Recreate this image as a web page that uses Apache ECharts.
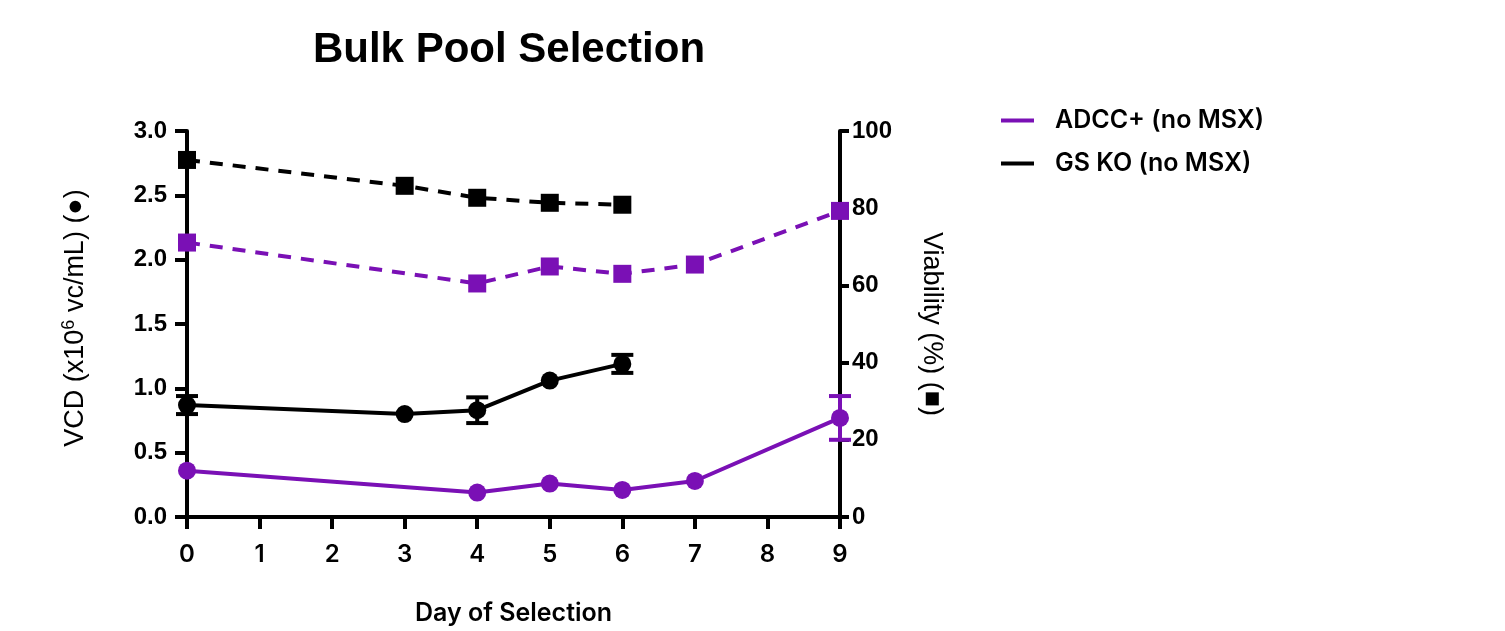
<!DOCTYPE html>
<html><head><meta charset="utf-8">
<script src="https://cdn.jsdelivr.net/npm/echarts@6/dist/echarts.min.js"></script>
<style>html,body{margin:0;padding:0;background:#fff}#c{width:1505px;height:631px}</style>
</head><body><div id="c"></div>
<script>
const days = [0,1,2,3,4,5,6,7,8,9];
const gsDays = [0,3,4,5,6];
const gsVCD = [0.87,0.80,0.83,1.06,1.19];
const gsVCDerr = [0.07,0,0.10,0,0.07];
const gsViab = [92.5,85.8,82.7,81.4,80.9];
const adDays = [0,4,5,6,7,9];
const adVCD = [0.36,0.19,0.26,0.21,0.28,0.77];
const adVCDerr = [0,0,0,0,0,0.17];
const adViab = [71.1,60.5,64.9,63.0,65.4,79.3];
const purple = '#7a10b5', black = '#000';

function pairs(xs, ys){ return xs.map((x,i)=>[x,ys[i]]); }
function errData(xs, ys, es){ return xs.map((x,i)=>[x,ys[i]-es[i],ys[i]+es[i]]).filter((d,i)=>es[i]>0); }
function errSeries(data, color){
  return {type:'custom', yAxisIndex:0, z:5, data:data, silent:true,
    renderItem:function(params, api){
      const x = api.value(0);
      const lo = api.coord([x, api.value(1)]);
      const hi = api.coord([x, api.value(2)]);
      const w = 11;
      const st = {stroke:color, lineWidth:4};
      return {type:'group', children:[
        {type:'line', shape:{x1:lo[0],y1:lo[1],x2:hi[0],y2:hi[1]}, style:st},
        {type:'line', shape:{x1:lo[0]-w,y1:lo[1],x2:lo[0]+w,y2:lo[1]}, style:st},
        {type:'line', shape:{x1:hi[0]-w,y1:hi[1],x2:hi[0]+w,y2:hi[1]}, style:st}
      ]};
    }};
}
const axLabel = {fontFamily:'Liberation Sans, Arial', fontWeight:'bold', fontSize:24, color:'#000'};
const chart = echarts.init(document.getElementById('c'));
chart.setOption({
  animation:false,
  title:{text:'Bulk Pool Selection', left:504, top:24, textAlign:'center',
    textStyle:{fontFamily:'Liberation Sans, Arial', fontWeight:'bold', fontSize:42, color:'#000'}},
  legend:{data:['ADCC+ (no MSX)','GS KO (no MSX)'], orient:'vertical', left:996, top:103,
    icon:'rect', itemWidth:33, itemHeight:4, itemGap:18,
    textStyle:{fontFamily:'Inter, Noto Sans', fontWeight:600, fontSize:25, color:'#000', padding:[0,0,0,16]}},
  grid:{left:187, right:665, top:131, bottom:113, containLabel:false},
  xAxis:{type:'value', min:0, max:9, interval:1, name:'Day of Selection', nameLocation:'middle', nameGap:84,
    nameTextStyle:{fontFamily:'Inter, Noto Sans', fontWeight:600, fontSize:25, color:'#000'},
    axisLine:{lineStyle:{color:'#000', width:4}}, axisTick:{length:12, lineStyle:{width:4, color:'#000'}},
    axisLabel:{fontFamily:'Inter, Noto Sans', fontWeight:600, fontSize:24, color:'#000', margin:26},
    splitLine:{show:false}},
  yAxis:[
    {type:'value', min:0, max:3, interval:0.5, position:'left',
     name:'VCD (x10{sup|6} vc/mL) (●)', nameLocation:'middle', nameGap:95, nameRotate:90,
     nameTextStyle:{fontFamily:'Liberation Sans, Arial', fontSize:27, color:'#000', padding:[0,0,0,12],
       rich:{sup:{fontFamily:'Liberation Sans, Arial', fontSize:18, verticalAlign:'top', padding:[0,0,14,0], color:'#000'}}},
     axisLine:{show:true, lineStyle:{color:'#000', width:4}}, axisTick:{show:true, length:12, lineStyle:{width:4, color:'#000'}},
     axisLabel:Object.assign({formatter:v=>v.toFixed(1), margin:20}, axLabel), splitLine:{show:false}},
    {type:'value', min:0, max:100, interval:20, position:'right',
     name:'Viability (%) (■)', nameLocation:'middle', nameGap:78, nameRotate:-90,
     nameTextStyle:{fontFamily:'Liberation Sans, Arial', fontSize:27, color:'#000'},
     axisLine:{show:true, lineStyle:{color:'#000', width:4}}, axisTick:{show:true, length:9, lineStyle:{width:4, color:'#000'}},
     axisLabel:Object.assign({margin:12}, axLabel), splitLine:{show:false}}
  ],
  series:[
    {name:'GS KO (no MSX)', type:'line', yAxisIndex:1, data:pairs(gsDays,gsViab), color:black,
     symbol:'rect', symbolSize:18, lineStyle:{width:4, type:[13,10], color:black}, itemStyle:{color:black}, z:3},
    {name:'ADCC+ (no MSX)', type:'line', yAxisIndex:1, data:pairs(adDays,adViab), color:purple,
     symbol:'rect', symbolSize:18, lineStyle:{width:4, type:[13,10], color:purple}, itemStyle:{color:purple}, z:3},
    {name:'GS KO (no MSX)', type:'line', yAxisIndex:0, data:pairs(gsDays,gsVCD), color:black,
     symbol:'circle', symbolSize:18, lineStyle:{width:4, color:black}, itemStyle:{color:black}, z:4},
    {name:'ADCC+ (no MSX)', type:'line', yAxisIndex:0, data:pairs(adDays,adVCD), color:purple,
     symbol:'circle', symbolSize:18, lineStyle:{width:4, color:purple}, itemStyle:{color:purple}, z:4},
    errSeries(errData(gsDays,gsVCD,gsVCDerr), black),
    errSeries(errData(adDays,adVCD,adVCDerr), purple)
  ]
});
</script></body></html>
